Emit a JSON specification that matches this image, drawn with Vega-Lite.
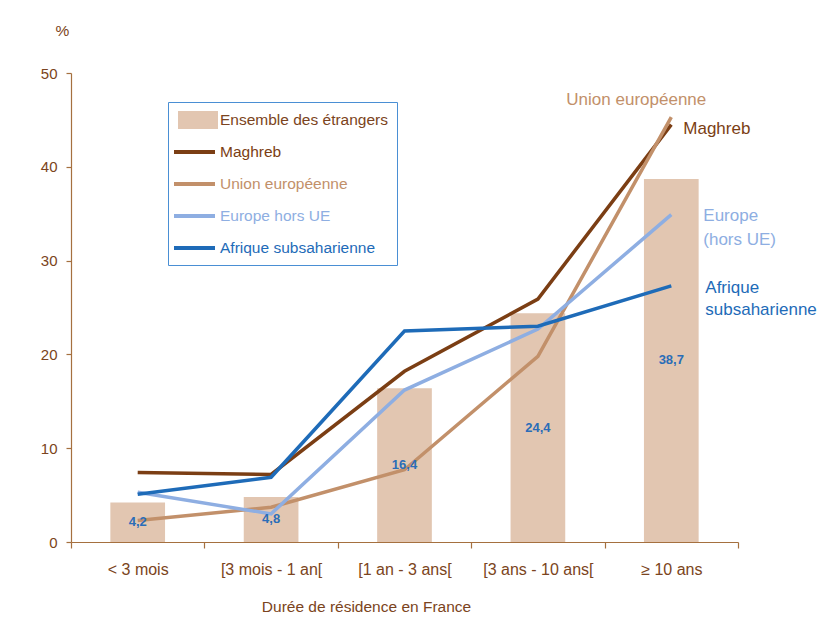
{
  "$schema": "https://vega.github.io/schema/vega-lite/v6.json",
  "width": 667,
  "height": 469,
  "autosize": {"type": "none"},
  "padding": {"left": 71, "top": 73, "right": 87, "bottom": 84},
  "background": "white",
  "datasets": {
    "bars": [
      {"cat": "< 3 mois", "value": 4.2},
      {"cat": "[3 mois - 1 an[", "value": 4.8},
      {"cat": "[1 an - 3 ans[", "value": 16.4},
      {"cat": "[3 ans - 10 ans[", "value": 24.4},
      {"cat": "≥ 10 ans", "value": 38.7}
    ],
    "lines": [
      {"series": "Maghreb", "cat": "< 3 mois", "value": 7.4},
      {"series": "Maghreb", "cat": "[3 mois - 1 an[", "value": 7.2},
      {"series": "Maghreb", "cat": "[1 an - 3 ans[", "value": 18.2},
      {"series": "Maghreb", "cat": "[3 ans - 10 ans[", "value": 25.9},
      {"series": "Maghreb", "cat": "≥ 10 ans", "value": 44.5},
      {"series": "Union européenne", "cat": "< 3 mois", "value": 2.3},
      {"series": "Union européenne", "cat": "[3 mois - 1 an[", "value": 3.7},
      {"series": "Union européenne", "cat": "[1 an - 3 ans[", "value": 7.7},
      {"series": "Union européenne", "cat": "[3 ans - 10 ans[", "value": 19.8},
      {"series": "Union européenne", "cat": "≥ 10 ans", "value": 45.3},
      {"series": "Europe hors UE", "cat": "< 3 mois", "value": 5.3},
      {"series": "Europe hors UE", "cat": "[3 mois - 1 an[", "value": 3.0},
      {"series": "Europe hors UE", "cat": "[1 an - 3 ans[", "value": 16.2},
      {"series": "Europe hors UE", "cat": "[3 ans - 10 ans[", "value": 22.7},
      {"series": "Europe hors UE", "cat": "≥ 10 ans", "value": 34.9},
      {"series": "Afrique subsaharienne", "cat": "< 3 mois", "value": 5.1},
      {"series": "Afrique subsaharienne", "cat": "[3 mois - 1 an[", "value": 6.9},
      {"series": "Afrique subsaharienne", "cat": "[1 an - 3 ans[", "value": 22.5},
      {"series": "Afrique subsaharienne", "cat": "[3 ans - 10 ans[", "value": 23.0},
      {"series": "Afrique subsaharienne", "cat": "≥ 10 ans", "value": 27.3}
    ]
  },
  "encoding": {
    "x": {
      "field": "cat",
      "type": "nominal",
      "sort": ["< 3 mois", "[3 mois - 1 an[", "[1 an - 3 ans[", "[3 ans - 10 ans[", "≥ 10 ans"],
      "scale": {"paddingInner": 0, "paddingOuter": 0},
      "axis": {
        "title": "Durée de résidence en France",
        "labelAngle": 0,
        "labelFontSize": 16,
        "tickBand": "extent",
        "tickSize": 6,
        "labelPadding": 13,
        "titleX": 295,
        "titleY": 64,
        "titleAlign": "center",
        "titleBaseline": "middle",
        "grid": false
      }
    },
    "y": {
      "field": "value",
      "type": "quantitative",
      "scale": {"domain": [0, 50]},
      "axis": {
        "title": "%",
        "values": [0, 10, 20, 30, 40, 50],
        "titleAngle": 0,
        "titleX": -9,
        "titleY": -43,
        "titleAlign": "center",
        "titleBaseline": "middle",
        "tickSize": 5,
        "labelPadding": 9,
        "grid": false
      }
    }
  },
  "layer": [
    {
      "data": {"name": "bars"},
      "mark": {"type": "bar", "width": {"band": 0.41}, "color": "#e2c6b1"},
      "encoding": {
        "color": {"datum": "Ensemble des étrangers", "type": "nominal"}
      }
    },
    {
      "data": {"name": "lines"},
      "mark": {"type": "line", "strokeWidth": 3.5},
      "encoding": {
        "color": {
          "field": "series",
          "type": "nominal",
          "scale": {
            "domain": ["Ensemble des étrangers", "Maghreb", "Union européenne", "Europe hors UE", "Afrique subsaharienne"],
            "range": ["#e2c6b1", "#7b3e14", "#c2906a", "#8eaee2", "#1e6bb8"]
          },
          "legend": {
            "title": null,
            "orient": "none",
            "legendX": 97,
            "legendY": 29,
            "padding": 8,
            "strokeColor": "#4a8fd4",
            "fillColor": "white",
            "symbolSize": 256,
            "rowPadding": 7,
            "gridAlign": "all",
            "labelOffset": 24,
            "labelLimit": 400,
            "labelFontSize": 15.5,
            "labelFont": "Liberation Sans",
            "encode": {
              "symbols": {
                "update": {
                  "shape": {"signal": "datum.value === 'Ensemble des étrangers' ? 'M-0.75,-0.875H3.75V0.875H-0.75Z' : 'M-1.5,0H3.625'"},
                  "fill": {"signal": "datum.value === 'Ensemble des étrangers' ? '#e2c6b1' : 'transparent'"},
                  "stroke": {"signal": "datum.value === 'Ensemble des étrangers' ? 'transparent' : scale('color', datum.value)"},
                  "strokeWidth": {"value": 4},
                  "size": {"value": 256},
                  "opacity": {"value": 1}
                }
              },
              "labels": {
                "update": {
                  "fill": {"signal": "datum.value === 'Ensemble des étrangers' ? '#7b4420' : scale('color', datum.value)"}
                }
              }
            }
          }
        }
      }
    },
    {
      "data": {"name": "bars"},
      "transform": [
        {"calculate": "datum.value / 2", "as": "mid"},
        {"calculate": "replace(format(datum.value, '.1f'), '.', ',')", "as": "lab"}
      ],
      "mark": {"type": "text", "color": "#2a6db8", "fontSize": 13, "fontWeight": "bold", "font": "Liberation Sans"},
      "encoding": {
        "y": {"field": "mid", "type": "quantitative"},
        "text": {"field": "lab"}
      }
    },
    {
      "data": {"name": "lines"},
      "transform": [{"filter": "datum.series === 'Union européenne' && datum.cat === '≥ 10 ans'"}],
      "mark": {"type": "text", "text": "Union européenne", "align": "center", "baseline": "middle", "dx": -35, "dy": -17, "fontSize": 17, "font": "Liberation Sans", "color": "#c2906a"}
    },
    {
      "data": {"name": "lines"},
      "transform": [{"filter": "datum.series === 'Maghreb' && datum.cat === '≥ 10 ans'"}],
      "mark": {"type": "text", "text": "Maghreb", "align": "left", "baseline": "middle", "dx": 12, "dy": 4, "fontSize": 17, "font": "Liberation Sans", "color": "#7b3e14"}
    },
    {
      "data": {"name": "lines"},
      "transform": [{"filter": "datum.series === 'Europe hors UE' && datum.cat === '≥ 10 ans'"}],
      "mark": {"type": "text", "text": ["Europe", "(hors UE)"], "lineHeight": 24, "align": "left", "baseline": "top", "dx": 32, "dy": -7, "fontSize": 17, "font": "Liberation Sans", "color": "#8eaee2"}
    },
    {
      "data": {"name": "lines"},
      "transform": [{"filter": "datum.series === 'Afrique subsaharienne' && datum.cat === '≥ 10 ans'"}],
      "mark": {"type": "text", "text": ["Afrique", "subsaharienne"], "lineHeight": 22, "align": "left", "baseline": "top", "dx": 34, "dy": -6, "fontSize": 17, "font": "Liberation Sans", "color": "#1e6bb8"}
    }
  ],
  "config": {
    "view": {"stroke": null},
    "font": "Liberation Sans",
    "axis": {
      "domainColor": "#a5703f",
      "tickColor": "#a5703f",
      "labelColor": "#7b4420",
      "titleColor": "#7b4420",
      "labelFontSize": 15,
      "titleFontSize": 15.5,
      "titleFontWeight": "normal",
      "labelFont": "Liberation Sans",
      "titleFont": "Liberation Sans",
      "domainWidth": 1.2,
      "tickWidth": 1.2
    }
  }
}
